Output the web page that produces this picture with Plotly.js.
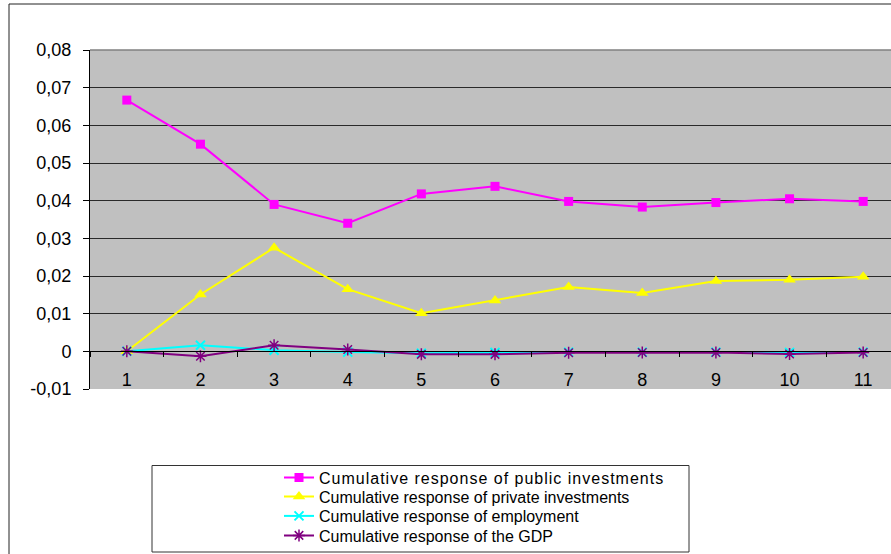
<!DOCTYPE html>
<html>
<head>
<meta charset="utf-8">
<script src="https://cdn.plot.ly/plotly-3.0.1.min.js"></script>
<style>
html, body { margin: 0; padding: 0; overflow: hidden; background: #fff; }
#chart { width: 901px; height: 554px; }
.legendtext { letter-spacing: 1px; }
</style>
</head>
<body>
<div id="chart"></div>
<script>
// ---- data ----
const periods = ['1','2','3','4','5','6','7','8','9','10','11'];
const publicInvestments = [0.0667, 0.0550, 0.0390, 0.0340, 0.0418, 0.0438, 0.0398, 0.0383, 0.0395, 0.0405, 0.0398];
const privateInvestments = [0.0000, 0.0151, 0.0275, 0.0165, 0.0101, 0.0135, 0.0171, 0.0155, 0.0187, 0.0190, 0.0198];
const employment = [0.0000, 0.0016, 0.0003, -0.0002, -0.0005, -0.0003, -0.0002, -0.0002, -0.0002, -0.0003, -0.0002];
const gdp = [0.0000, -0.0013, 0.0016, 0.0005, -0.0008, -0.0008, -0.0004, -0.0003, -0.0003, -0.0007, -0.0003];
const seriesNames = [
  'Cumulative response of public investments',
  'Cumulative response of private investments',
  'Cumulative response of employment',
  'Cumulative response of the GDP'
];
const yTickVals = [-0.01, 0, 0.01, 0.02, 0.03, 0.04, 0.05, 0.06, 0.07, 0.08];
const yTickText = ['-0,01', '0', '0,01', '0,02', '0,03', '0,04', '0,05', '0,06', '0,07', '0,08'];

// ---- layout geometry (pixels) ----
const W = 901, H = 554;
const mL = 90, mR = 1, mT = 50, mB = 165;
const plotW = W - mL - mR, plotH = H - mT - mB;
const px = x => (x - mL) / plotW;
const py = y => (H - mB - y) / plotH;

const font = 'Liberation Sans, Arial, sans-serif';

const traces = [
  {x: periods, y: publicInvestments, name: seriesNames[0], legend: 'legend', type: 'scatter', mode: 'lines+markers',
   line: {color: '#FF00FF', width: 2}, marker: {symbol: 'square', size: 9, color: '#FF00FF'}},
  {x: periods, y: privateInvestments, name: seriesNames[1], legend: 'legend2', type: 'scatter', mode: 'lines+markers',
   line: {color: '#FFFF00', width: 2}, marker: {symbol: 'triangle-up', size: 11, color: '#FFFF00'}},
  {x: periods, y: employment, name: seriesNames[2], legend: 'legend3', type: 'scatter', mode: 'lines+markers',
   line: {color: '#00FFFF', width: 2}, marker: {symbol: 'x-thin', size: 9, color: '#00FFFF', line: {color: '#00FFFF', width: 2}}},
  {x: periods, y: gdp, name: seriesNames[3], legend: 'legend4', type: 'scatter', mode: 'lines+markers',
   line: {color: '#800080', width: 2}, marker: {symbol: 'asterisk-open', size: 10, color: '#800080', line: {color: '#800080', width: 1.5}}}
];

function legendAt(yCenter) {
  return {
    x: px(279), xanchor: 'left',
    y: py(yCenter), yanchor: 'middle',
    bgcolor: 'rgba(0,0,0,0)', borderwidth: 0,
    font: {family: font, size: 16, color: '#000'},
    itemclick: false, itemdoubleclick: false
  };
}

const layout = {
  width: W, height: H, autosize: false,
  margin: {l: mL, r: mR, t: mT, b: mB, pad: 0, autoexpand: false},
  paper_bgcolor: '#FFFFFF',
  plot_bgcolor: '#C0C0C0',
  font: {family: font, color: '#000', size: 18},
  showlegend: true,
  xaxis: {
    type: 'category',
    anchor: 'free', position: 1/9,
    range: [-0.5, 10.5],
    showgrid: false, zeroline: false,
    showline: true, linecolor: '#000', linewidth: 1,
    ticks: 'outside', tickson: 'boundaries', ticklen: 5, tickcolor: '#000', tickwidth: 1,
    tickfont: {family: font, size: 18, color: '#000'},
    ticklabelstandoff: 12,
    fixedrange: true
  },
  yaxis: {
    range: [-0.01, 0.08],
    tickmode: 'array', tickvals: yTickVals, ticktext: yTickText,
    showgrid: true, gridcolor: '#2a2a2a', gridwidth: 1,
    zeroline: false,
    showline: true, linecolor: '#000', linewidth: 1,
    ticks: 'outside', ticklen: 6, tickcolor: '#000', tickwidth: 1,
    tickfont: {family: font, size: 18, color: '#000'},
    ticklabelstandoff: 8,
    fixedrange: true
  },
  legend: legendAt(477.5),
  legend2: legendAt(496.7),
  legend3: legendAt(516),
  legend4: legendAt(535.5),
  shapes: [
    {type: 'rect', xref: 'paper', yref: 'paper',
     x0: px(9), x1: 1.3, y0: -0.8, y1: py(4),
     line: {color: '#222', width: 1}, fillcolor: 'rgba(0,0,0,0)'},
    {type: 'rect', xref: 'paper', yref: 'paper',
     x0: px(152), x1: px(689), y0: py(552), y1: py(465.5),
     line: {color: '#333', width: 1}, fillcolor: 'rgba(0,0,0,0)'},
    {type: 'line', xref: 'paper', yref: 'paper',
     x0: 0, x1: 1, y0: 1, y1: 1,
     line: {color: '#808080', width: 1.5}}
  ]
};

Plotly.newPlot('chart', traces, layout, {displayModeBar: false, staticPlot: true});
</script>
</body>
</html>
